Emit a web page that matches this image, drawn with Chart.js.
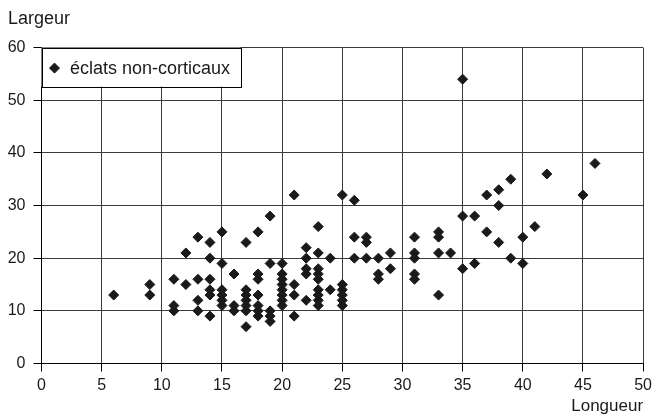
<!DOCTYPE html>
<html>
<head>
<meta charset="utf-8">
<script src="https://cdn.jsdelivr.net/npm/chart.js@4.4.0/dist/chart.umd.min.js"></script>
<style>
    html, body { margin: 0; padding: 0; background: #fff; }
</style>
</head>
<body>
<canvas id="chart_one" width="656" height="420"></canvas>
<script>
// longueur (x) / largeur (y) of each flake
let longueur = [
    6,
    9, 9,
    11, 11, 11,
    12, 12,
    13, 13, 13, 13,
    14, 14, 14, 14, 14, 14,
    15, 15, 15, 15, 15, 15,
    16, 16, 16,
    17, 17, 17, 17, 17, 17, 17,
    18, 18, 18, 18, 18, 18, 18,
    19, 19, 19, 19, 19,
    20, 20, 20, 20, 20, 20, 20, 20,
    21, 21, 21, 21,
    22, 22, 22, 22, 22,
    23, 23, 23, 23, 23, 23, 23, 23, 23,
    24, 24,
    25, 25, 25, 25, 25, 25,
    26, 26, 26,
    27, 27, 27,
    28, 28, 28,
    29, 29,
    31, 31, 31, 31, 31,
    33, 33, 33, 33,
    34,
    35, 35, 35,
    36, 36,
    37, 37,
    38, 38, 38,
    39, 39,
    40, 40,
    41, 42, 45, 46
];
let largeur = [
    13,
    15, 13,
    16, 11, 10,
    21, 15,
    24, 16, 12, 10,
    23, 20, 16, 14, 13, 9,
    25, 19, 14, 13, 12, 11,
    17, 11, 10,
    23, 14, 13, 12, 11, 10, 7,
    25, 17, 16, 13, 11, 10, 9,
    28, 19, 10, 9, 8,
    19, 17, 16, 15, 14, 13, 12, 11,
    32, 15, 13, 9,
    22, 20, 18, 17, 12,
    26, 21, 18, 17, 16, 14, 13, 12, 11,
    20, 14,
    32, 15, 14, 13, 12, 11,
    31, 24, 20,
    24, 23, 20,
    20, 17, 16,
    21, 18,
    24, 21, 20, 17, 16,
    25, 24, 21, 13,
    21,
    54, 28, 18,
    28, 19,
    32, 25,
    33, 30, 23,
    35, 20,
    24, 19,
    26, 36, 32, 38
];
let seriesLabel = "éclats non-corticaux";
let xTitle = "Longueur";
let yTitle = "Largeur";

let points = longueur.map((x, i) => ({x: x, y: largeur[i]}));

Chart.defaults.font.family = '"Liberation Sans", Arial, sans-serif';
Chart.defaults.color = "#1a1a1a";

// legend drawn as a white framed box in the top-left corner of the plot
let legendBox = {
    id: "legendBox",
    afterDraw(chart) {
        let ctx = chart.ctx;
        let a = chart.chartArea;
        let ds = chart.data.datasets[0];
        ctx.save();
        ctx.fillStyle = "#fff";
        ctx.fillRect(a.left, a.top, 199, 39);
        ctx.strokeStyle = "#000";
        ctx.lineWidth = 1;
        ctx.strokeRect(Math.round(a.left) + 0.5, Math.round(a.top) + 0.5, 199, 39);
        ctx.fillStyle = ds.backgroundColor;
        ctx.strokeStyle = ds.borderColor;
        Chart.helpers.drawPoint(ctx, {pointStyle: "rectRot", radius: 5, borderWidth: 1, rotation: 0},
            a.left + 13, a.top + 20.5);
        ctx.fillStyle = "#1a1a1a";
        ctx.font = '18px "Liberation Sans", Arial, sans-serif';
        ctx.textBaseline = "middle";
        ctx.fillText(ds.label, a.left + 28.5, a.top + 21);
        ctx.restore();
    }
};

var chart = new Chart("chart_one", {
    type: "scatter",
    data: {
        datasets: [{
            label: seriesLabel,
            data: points,
            pointStyle: "rectRot",
            pointRadius: 5,
            pointHoverRadius: 5,
            borderWidth: 1,
            backgroundColor: "#1a1a1a",
            borderColor: "#1a1a1a"
        }]
    },
    options: {
        responsive: false,
        animation: false,
        events: [],
        layout: {
            padding: {left: 8, right: 12, top: 0, bottom: 0}
        },
        plugins: {
            legend: {display: false},
            tooltip: {enabled: false},
            title: {
                display: true,
                text: yTitle,
                align: "start",
                color: "#1a1a1a",
                font: {size: 18, weight: "normal"},
                padding: {top: 8, bottom: 18}
            }
        },
        scales: {
            x: {
                type: "linear",
                min: 0,
                max: 50,
                ticks: {stepSize: 5, padding: 4, font: {size: 16}, color: "#1a1a1a"},
                grid: {color: "#3a3a3a", tickLength: 8, tickColor: "#000"},
                border: {color: "#000"},
                title: {
                    display: true,
                    text: xTitle,
                    align: "end",
                    color: "#1a1a1a",
                    font: {size: 17},
                    padding: {top: 0, bottom: 3}
                },
                afterFit: function(scale) { scale.height = 56.5; }
            },
            y: {
                type: "linear",
                min: 0,
                max: 60,
                ticks: {stepSize: 10, padding: 8, font: {size: 16}, color: "#1a1a1a"},
                grid: {color: "#3a3a3a", tickLength: 8, tickColor: "#000"},
                border: {color: "#000"},
                afterFit: function(scale) { scale.width = 33.5; }
            }
        }
    },
    plugins: [legendBox]
});
</script>
</body>
</html>
